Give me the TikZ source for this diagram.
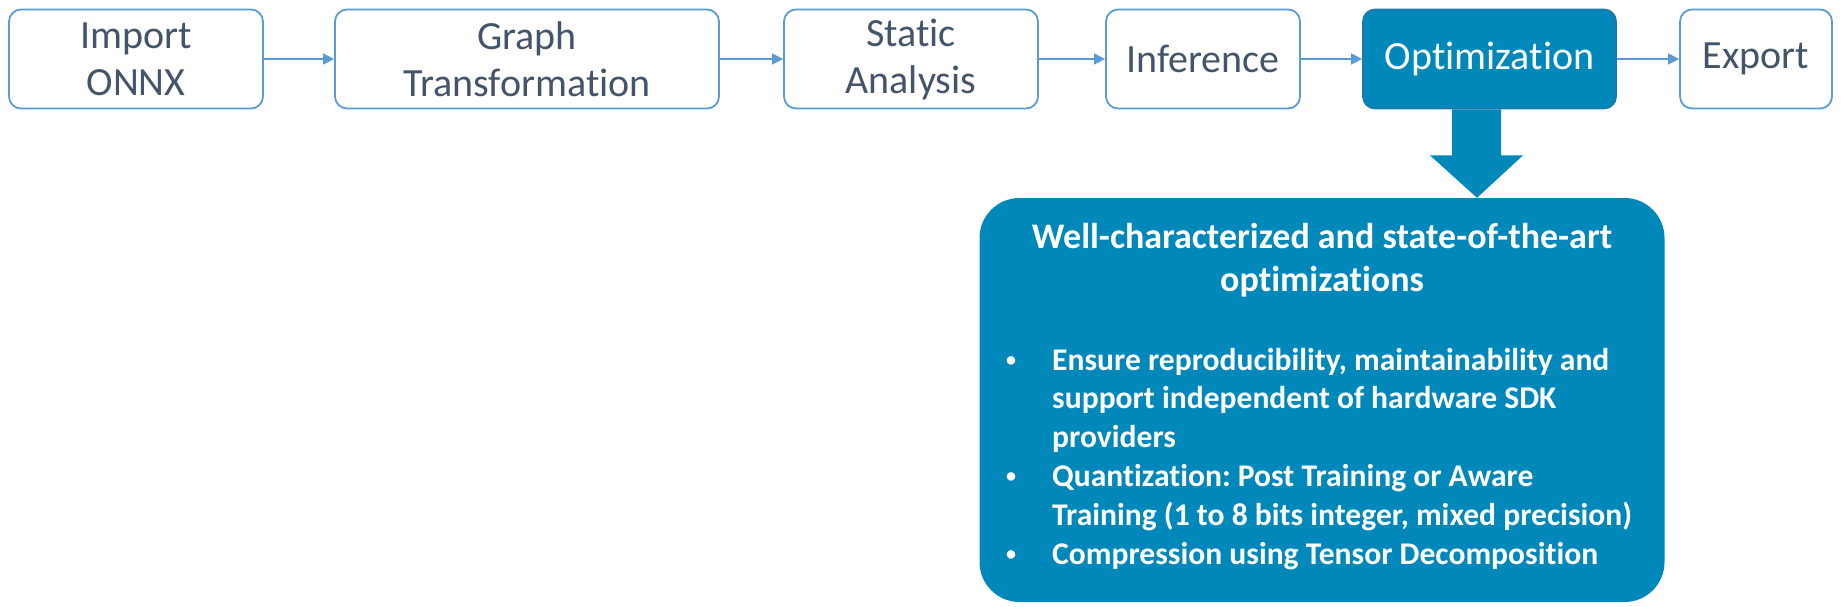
\documentclass[tikz,border=0pt]{standalone}
\usepackage{fontspec}
\setmainfont{Carlito}[Ligatures=NoCommon]
\usetikzlibrary{arrows.meta,calc}
\frenchspacing

\definecolor{boxline}{HTML}{5B9BD5}
\definecolor{txtgray}{HTML}{44546A}
\definecolor{optblue}{HTML}{0088BA}
\definecolor{optline}{HTML}{1E78A8}

\newcommand{\itembullet}{\raisebox{0.12em}{\fontsize{20}{20}\selectfont\textbullet}}

\tikzset{
    stage/.style={rectangle, draw=boxline, line width=1.8pt, rounded corners=12pt,
        fill=white, text=txtgray, minimum height=99pt, inner sep=0pt, align=center,
        font=\fontsize{40}{47}\selectfont},
    flow/.style={draw=boxline, line width=1.6pt, -{Triangle[length=11pt,width=11pt]}},
}

\begin{document}
\begin{tikzpicture}[x=1pt, y=-1pt]
    \useasboundingbox (0,0) rectangle (1841,607);
    % pipeline stages
    \node (onnx) [stage, minimum width=254pt] at (136,59) {Import\\ONNX};
    \node (graph) [stage, minimum width=384pt] at (527,59) {Graph\\Transformation};
    \node (static) [stage, minimum width=254pt] at (911,59) {Static\\Analysis};
    \node (infer) [stage, minimum width=194pt] at (1203,59) {Inference};
    \node (opt) [stage, minimum width=253pt, fill=optblue, draw=optline, text=white] at (1489.5,59) {Optimization};
    \node (export) [stage, minimum width=152pt] at (1756,59) {Export};

    % links between stages
    \draw [flow] (onnx) -- (graph);
    \draw [flow] (graph) -- (static);
    \draw [flow] (static) -- (infer);
    \draw [flow] (infer) -- (opt);
    \draw [flow] (opt) -- (export);

    % details box
    \node (detail) [rectangle, rounded corners=40pt, fill=optblue, minimum width=685pt,
        minimum height=404pt] at (1322,400) {};

    % block arrow down to the details
    \coordinate (tip) at (detail.north -| 1477,0);
    \fill [optblue] ($(opt.south)+(-37.5,0)$) -- ($(opt.south)+(-37.5,46)$)
        -- ($(opt.south)+(-59.5,46)$) -- (tip) -- ($(opt.south)+(33.5,46)$)
        -- ($(opt.south)+(11.5,46)$) -- ($(opt.south)+(11.5,0)$) -- cycle;

    \node (title) [anchor=base, text=white, inner sep=0pt, font=\bfseries\fontsize{36}{43}\selectfont]
        at (1322,248) {\begin{tabular}[t]{@{}c@{}}Well-characterized and state-of-the-art\\optimizations\end{tabular}};

    \node (items) [anchor=base west, text=white, inner sep=0pt, font=\bfseries\fontsize{31.6}{38.8}\selectfont]
        at (1006,370) {\begin{tabular}[t]{@{}p{46pt}@{}l@{}}
        \itembullet & Ensure reproducibility, maintainability and\\
                    & support independent of hardware SDK\\
                    & providers\\
        \itembullet & Quantization: Post Training or Aware\\
                    & Training (1 to 8 bits integer, mixed precision)\\
        \itembullet & Compression using Tensor Decomposition
        \end{tabular}};
\end{tikzpicture}
\end{document}
